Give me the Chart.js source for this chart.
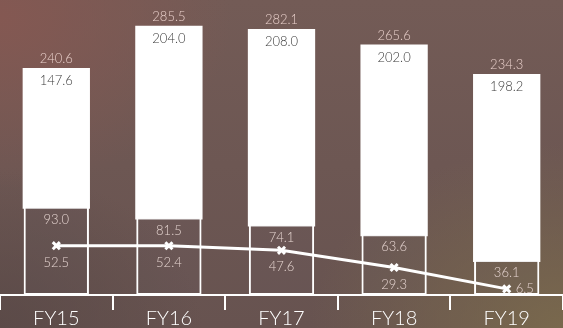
<!DOCTYPE html>
<html>
<head>
<meta charset="utf-8">
<script src="https://cdn.jsdelivr.net/npm/chart.js@4"></script>
<style>
  html, body { margin: 0; padding: 0; }
  body {
    width: 563px;
    height: 328px;
    overflow: hidden;
    background:
      radial-gradient(ellipse 60% 75% at 100% 100%, rgba(124, 108, 76, 0.85), rgba(124, 108, 76, 0) 75%),
      radial-gradient(ellipse 55% 70% at 0% 5%, rgba(132, 88, 82, 1), rgba(132, 88, 82, 0) 75%),
      radial-gradient(ellipse 45% 60% at 0% 100%, rgba(88, 72, 70, 0.8), rgba(88, 72, 70, 0) 80%),
      linear-gradient(180deg, #735b56 0%, #675350 100%);
  }
  #wrap { position: relative; width: 563px; height: 328px; }
</style>
</head>
<body>
<div id="wrap"><canvas id="chart"></canvas></div>
<script>
const years = ["FY15", "FY16", "FY17", "FY18", "FY19"];
const baseVals = [93.0, 81.5, 74.1, 63.6, 36.1];
const upperVals = [147.6, 204.0, 208.0, 202.0, 198.2];
const lineVals = [52.5, 52.4, 47.6, 29.3, 6.5];

const FONT = "Lato, 'Open Sans', sans-serif";

// writes the numbers on the bars, above the stacks and next to the markers
const valueLabels = {
    id: "valueLabels",
    afterDatasetsDraw(chart) {
        const ctx = chart.ctx;
        const baseMeta = chart.getDatasetMeta(0);
        const upperMeta = chart.getDatasetMeta(1);
        const lineMeta = chart.getDatasetMeta(2);
        ctx.save();
        ctx.font = "300 13px " + FONT;
        ctx.textBaseline = "middle";
        ctx.textAlign = "center";
        years.forEach((y, i) => {
            const b = baseMeta.data[i];
            const u = upperMeta.data[i];
            const p = lineMeta.data[i];

            ctx.fillStyle = "#e4d3cf";
            ctx.fillText(baseVals[i].toFixed(1), b.x, b.y + 12);

            ctx.fillStyle = "#3a3a3a";
            ctx.fillText(upperVals[i].toFixed(1), u.x, u.y + 12);

            ctx.fillStyle = "#e8cfca";
            ctx.fillText((baseVals[i] + upperVals[i]).toFixed(1), u.x, u.y - 10);

            ctx.fillStyle = "#e4d3cf";
            if (i === years.length - 1) {
                ctx.textAlign = "left";
                ctx.fillText(lineVals[i].toFixed(1), p.x + 9, p.y);
                ctx.textAlign = "center";
            } else {
                ctx.fillText(lineVals[i].toFixed(1), p.x, p.y + 17);
            }
        });
        ctx.restore();
    }
};

const ctx = document.getElementById("chart").getContext("2d");
new Chart(ctx, {
    data: {
        labels: years,
        datasets: [
            {
                type: "bar",
                data: baseVals,
                stack: "bars",
                backgroundColor: "rgba(110, 100, 105, 0.12)",
                borderColor: "#ffffff",
                borderWidth: 2,
                borderSkipped: "top",
                barPercentage: 0.58,
                categoryPercentage: 1,
                order: 2
            },
            {
                type: "bar",
                data: upperVals,
                stack: "bars",
                backgroundColor: "#ffffff",
                borderWidth: 0,
                inflateAmount: 1,
                barPercentage: 0.58,
                categoryPercentage: 1,
                order: 2
            },
            {
                type: "line",
                data: lineVals,
                stack: "line",
                borderColor: "#ffffff",
                borderWidth: 3,
                pointStyle: "crossRot",
                pointRadius: 5,
                pointBorderWidth: 3,
                pointBorderColor: "#ffffff",
                pointBackgroundColor: "#ffffff",
                tension: 0,
                order: 1
            }
        ]
    },
    options: {
        responsive: true,
        maintainAspectRatio: false,
        animation: false,
        layout: { autoPadding: false, padding: 0 },
        plugins: {
            legend: { display: false },
            tooltip: { enabled: false }
        },
        scales: {
            x: {
                stacked: true,
                afterFit(scale) { scale.height = 33; },
                grid: {
                    offset: true,
                    drawOnChartArea: false,
                    color: "#ffffff",
                    lineWidth: 2,
                    tickLength: 15
                },
                border: { display: true, color: "#ffffff", width: 2 },
                ticks: {
                    color: "#ffffff",
                    padding: -3,
                    font: { family: FONT, size: 20, weight: 300 }
                }
            },
            y: {
                stacked: true,
                display: false,
                min: 0,
                max: 314
            }
        }
    },
    plugins: [valueLabels]
});
</script>
</body>
</html>
